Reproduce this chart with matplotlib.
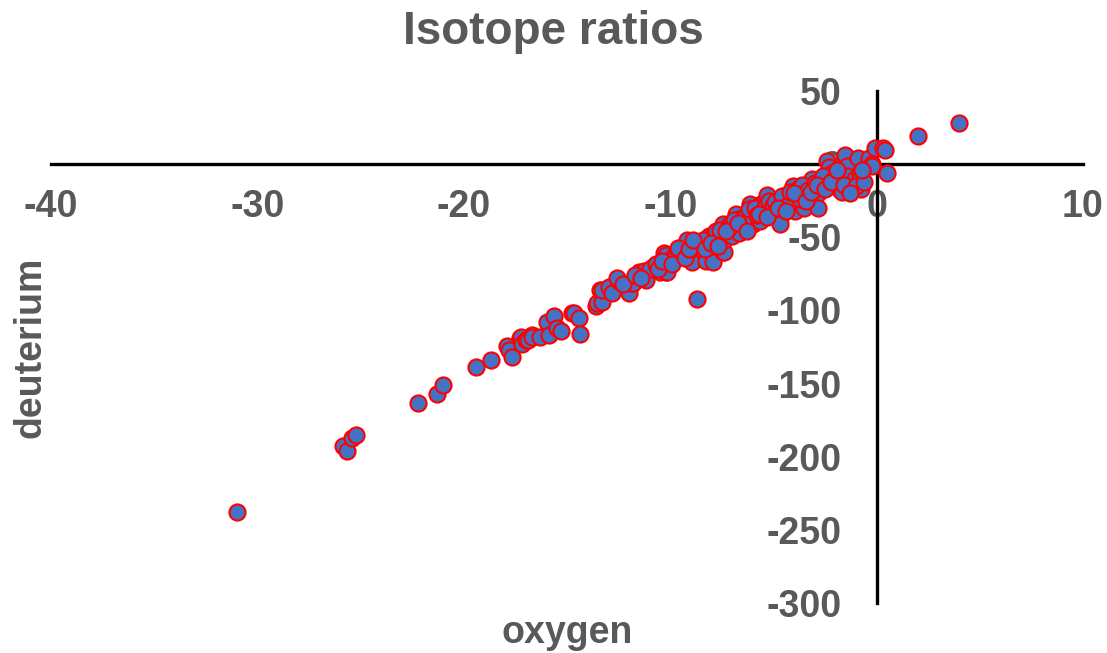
import matplotlib
matplotlib.use("Agg")
import matplotlib.pyplot as plt

# isotope ratios (delta 18O vs delta D)
oxygen = [
    -31.0, -25.85, -25.65, -25.4, -25.2,
    -22.2, -21.3, -21.0, -19.4, -18.7,
    -17.9, -17.8, -17.65, -17.3, -17.25, -17.2, -17.0, -16.9, -16.7, -16.7,
    -16.3, -15.95, -15.85, -15.65, -15.5, -15.3, -14.75, -14.65, -14.4, -14.35,
    -13.6, -13.55, -13.4, -13.3, -13.3, -12.95, -12.8, -12.1, -12.0, -11.9,
    -11.8, -11.5, -11.25, -11.15, -10.9, -10.85, -10.5, -10.3, -10.2, -10.2,
    -10.15, -9.55, -9.45, -9.4, -9.2, -8.95, -8.7, -8.6, -8.5, -8.25,
    -8.1, -7.95, -7.95, -7.75, -7.45, -7.45, -7.4, -7.4, -7.1, -7.0,
    -6.8, -6.65, -6.5, -6.15, -6.05, -6.0, -6.0, -5.65, -5.6, -5.5,
    -5.3, -4.7, -4.7, -4.45, -4.35, -4.05, -3.95, -3.5, -3.15, -3.15,
    -2.85, -2.85, -2.4, -2.4, -2.3, -2.15, -1.8, -1.8, -1.7, -1.55,
    -1.45, -1.45, -1.2, -1.05, -0.9, -0.8, -0.8, -0.75, -0.35, -0.2,
    -0.2, -0.1, 0.3, 0.4, 0.5, 2.0, 4.0,
    # extra points hidden inside the dense band
    -9.0, -8.8, -8.4, -7.8, -7.6, -7.2, -6.9, -6.4, -6.2, -5.9,
    -5.8, -5.4, -5.2, -5.0, -4.9, -4.6, -4.3, -4.2, -3.8, -3.7,
    -3.6, -3.3, -3.0, -2.7, -2.6, -2.0, -9.8, -10.0, -11.0, -12.5,
    -12.6, -12.3, -11.7, -11.4, -10.7, -10.6, -10.4, -9.9, -9.6, -9.3,
    -9.1, -8.9, -8.3, -8.0, -7.7, -7.3, -6.7, -6.3, -5.7, -5.3,
    -4.8, -4.4, -4.0, -3.4, -3.2, -2.9, -2.5, -2.2, -1.9, -1.6,
    -1.0, -0.6, -1.3, -0.7,
]
deuterium = [
    -238, -193, -196, -187, -185,
    -163, -157, -151, -139, -134,
    -124, -127, -132, -119, -118, -123, -120, -120, -117, -118,
    -118, -108, -117, -104, -112, -114, -102, -102, -105, -116,
    -97, -95, -86, -94, -86, -84, -88, -83, -88, -81,
    -81, -74, -73, -79, -71, -70, -74, -61, -62, -74,
    -74, -62, -61, -60, -52, -67, -92, -56, -56, -66,
    -49, -49, -67, -47, -41, -60, -60, -52, -41, -49,
    -34, -47, -37, -27, -32, -33, -41, -39, -27, -27,
    -21, -37, -41, -23, -23, -15, -32, -30, -11, -10,
    -20, -30, -11, 2, -2, -6, -12, -17, -19, 6,
    -1, -8, -16, -10, 4, -6, -10, -17, 4, 0,
    -1, 11, 11, 10, -6, 19, 28,
    -58, -55, -52, -46, -45, -44, -38, -36, -31, -30,
    -35, -29, -25, -28, -26, -22, -28, -19, -17, -24,
    -14, -18, -13, -16, -8, -9, -63, -66, -72, -80,
    -78, -82, -76, -78, -68, -72, -66, -68, -57, -64,
    -58, -52, -58, -54, -56, -46, -40, -46, -34, -36,
    -30, -32, -20, -25, -19, -14, -17, -12, -4, -14,
    -15, -12, -20, -4,
]

x_ticks = [-40, -30, -20, -10, 0, 10]
y_ticks = [50, 0, -50, -100, -150, -200, -250, -300]

grey = "#595959"
plt.rcParams["font.family"] = ["Liberation Sans", "DejaVu Sans"]
plt.rcParams["font.weight"] = "bold"
plt.rcParams["axes.unicode_minus"] = False

fig = plt.figure(figsize=(11.07, 6.53), dpi=100)
ax = fig.add_axes([51 / 1107, 1 - 603 / 653, 1032 / 1107, 512 / 653])

ax.scatter(oxygen, deuterium, s=135, c="#4472C4", edgecolors="#FF0000",
           linewidths=1.5, zorder=3, clip_on=False)

ax.set_xlim(-40, 10)
ax.set_ylim(-300, 50)
ax.set_xticks(x_ticks)
ax.set_yticks(y_ticks)

# axes cross at the origin, like the spreadsheet chart
ax.spines["left"].set_position(("data", 0))
ax.spines["bottom"].set_position(("data", 0))
ax.spines["top"].set_visible(False)
ax.spines["right"].set_visible(False)
for side in ["left", "bottom"]:
    ax.spines[side].set_linewidth(2.4)
    ax.spines[side].set_color("black")
    ax.spines[side].set_zorder(2)

ax.tick_params(axis="x", length=0, pad=18, labelsize=27, labelcolor=grey)
ax.tick_params(axis="y", length=0, pad=25, labelsize=27, labelcolor=grey)
for lab in ax.get_xticklabels() + ax.get_yticklabels():
    lab.set_fontweight("bold")
    lab.set_zorder(4)

fig.text(553 / 1107, 1 - 44 / 653, "Isotope ratios", ha="center", va="baseline",
         fontsize=33, fontweight="bold", color=grey)
fig.text(567 / 1107, 1 - 643 / 653, "oxygen", ha="center", va="baseline",
         fontsize=27, fontweight="bold", color=grey)
fig.text(30 / 1107, 1 - 347 / 653, "deuterium", ha="center", va="center",
         rotation=90, fontsize=27, fontweight="bold", color=grey)

fig.savefig("out.png", dpi=100)
